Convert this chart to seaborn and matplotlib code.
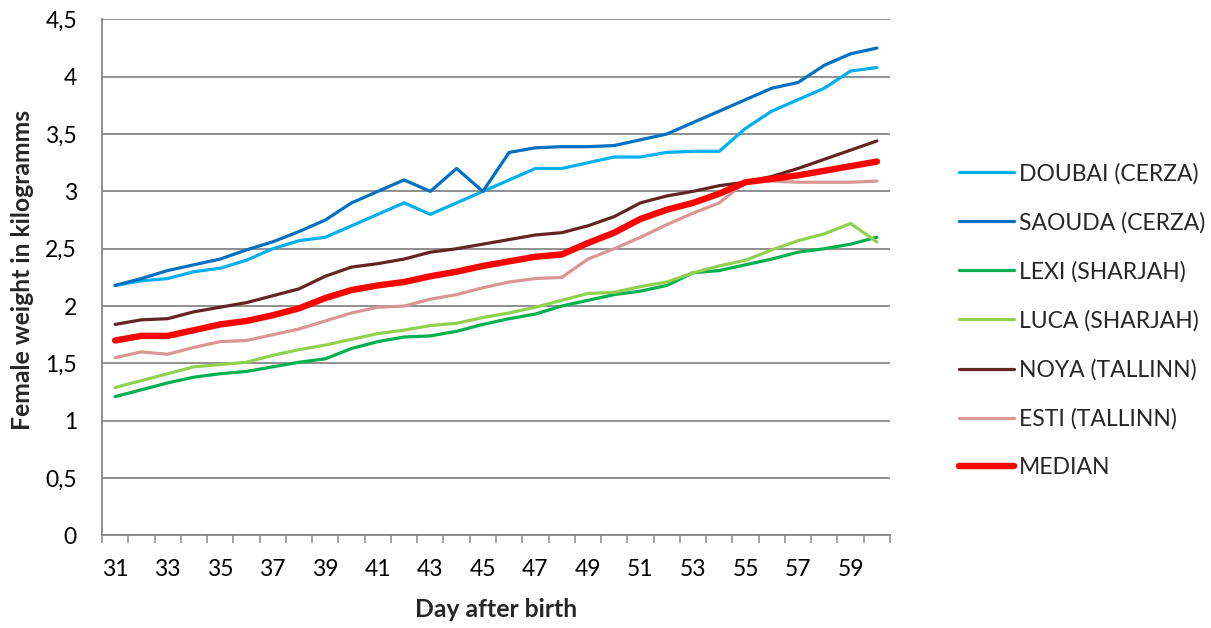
import matplotlib
matplotlib.use("Agg")
import matplotlib.pyplot as plt
import seaborn as sns
import numpy as np
import pandas as pd

# Days after birth (x categories)
days = list(range(31, 61))

doubai = [2.18, 2.22, 2.24, 2.30, 2.33, 2.40, 2.50, 2.57, 2.60, 2.70,
          2.80, 2.90, 2.80, 2.90, 3.00, 3.10, 3.20, 3.20, 3.25, 3.30,
          3.30, 3.34, 3.35, 3.35, 3.55, 3.70, 3.80, 3.90, 4.05, 4.08]
saouda = [2.18, 2.24, 2.31, 2.36, 2.41, 2.49, 2.56, 2.65, 2.75, 2.90,
          3.00, 3.10, 3.00, 3.20, 3.00, 3.34, 3.38, 3.39, 3.39, 3.40,
          3.45, 3.50, 3.60, 3.70, 3.80, 3.90, 3.95, 4.10, 4.20, 4.25]
lexi = [1.21, 1.27, 1.33, 1.38, 1.41, 1.43, 1.47, 1.51, 1.54, 1.63,
        1.69, 1.73, 1.74, 1.78, 1.84, 1.89, 1.93, 2.00, 2.05, 2.10,
        2.13, 2.18, 2.29, 2.31, 2.36, 2.41, 2.47, 2.50, 2.54, 2.60]
luca = [1.29, 1.35, 1.41, 1.47, 1.49, 1.51, 1.57, 1.62, 1.66, 1.71,
        1.76, 1.79, 1.83, 1.85, 1.90, 1.94, 1.99, 2.05, 2.11, 2.12,
        2.17, 2.21, 2.29, 2.35, 2.40, 2.49, 2.57, 2.63, 2.72, 2.56]
noya = [1.84, 1.88, 1.89, 1.95, 1.99, 2.03, 2.09, 2.15, 2.26, 2.34,
        2.37, 2.41, 2.47, 2.50, 2.54, 2.58, 2.62, 2.64, 2.70, 2.78,
        2.90, 2.96, 3.00, 3.05, 3.08, 3.13, 3.20, 3.28, 3.36, 3.44]
esti = [1.55, 1.60, 1.58, 1.64, 1.69, 1.70, 1.75, 1.80, 1.87, 1.94,
        1.99, 2.00, 2.06, 2.10, 2.16, 2.21, 2.24, 2.25, 2.41, 2.50,
        2.60, 2.71, 2.81, 2.90, 3.08, 3.09, 3.08, 3.08, 3.08, 3.09]
median = [1.70, 1.74, 1.74, 1.79, 1.84, 1.87, 1.92, 1.98, 2.07, 2.14,
          2.18, 2.21, 2.26, 2.30, 2.35, 2.39, 2.43, 2.45, 2.55, 2.64,
          2.76, 2.84, 2.90, 2.98, 3.08, 3.11, 3.14, 3.18, 3.22, 3.26]

series_names = ["DOUBAI (CERZA)", "SAOUDA (CERZA)", "LEXI (SHARJAH)",
                "LUCA (SHARJAH)", "NOYA (TALLINN)", "ESTI (TALLINN)", "MEDIAN"]
series_values = [doubai, saouda, lexi, luca, noya, esti, median]
series_colors = ["#00B0F0", "#0070C0", "#00B050", "#92D050",
                 "#632523", "#D99694", "#FF0000"]

y_ticks = [0, 0.5, 1, 1.5, 2, 2.5, 3, 3.5, 4, 4.5]
y_tick_labels = ["0", "0,5", "1", "1,5", "2", "2,5", "3", "3,5", "4", "4,5"]
x_tick_days = list(range(31, 61, 2))

sns.set_theme(style="white")
plt.rcParams["font.family"] = ["Lato", "DejaVu Sans"]

W, H = 1211, 628
fig = plt.figure(figsize=(W / 100, H / 100), dpi=100)
ax = fig.add_axes([102 / W, 1 - 535.4 / H, (890 - 102) / W, (535.4 - 19.4) / H])

for name, vals, col in zip(series_names, series_values, series_colors):
    lw = 4.6 if name == "MEDIAN" else 2.3
    sns.lineplot(x=days, y=vals, ax=ax, color=col, lw=lw, label=name,
                 solid_joinstyle="round", solid_capstyle="round")

ax.set_xlim(30.5, 60.5)
ax.set_ylim(0, 4.5)

ax.set_yticks(y_ticks)
ax.set_yticklabels(y_tick_labels)
ax.set_xticks(x_tick_days)
ax.set_xticklabels([str(d) for d in x_tick_days])
ax.set_xticks(np.arange(30.5, 61, 1), minor=True)

grid_col = "#878787"
ax.yaxis.grid(True, color=grid_col, lw=1.3)
ax.xaxis.grid(False)
ax.set_axisbelow(True)
for side in ["top", "right"]:
    ax.spines[side].set_visible(False)
for side in ["left", "bottom"]:
    ax.spines[side].set_color(grid_col)
    ax.spines[side].set_linewidth(1.3)

tick_fs = 16.5
ax.tick_params(axis="y", which="both", length=0, pad=18, labelsize=tick_fs, labelcolor="#000000")
ax.tick_params(axis="x", which="major", length=0, pad=17, labelsize=tick_fs, labelcolor="#000000")
ax.tick_params(axis="x", which="minor", bottom=True, length=6, width=1.1, color=grid_col)

ax.set_xlabel("Day after birth", fontsize=17.8, fontweight="bold", labelpad=13)
ax.set_ylabel("Female weight in kilogramms", fontsize=17.8, fontweight="bold",
              ha="center", va="center")
ax.yaxis.set_label_coords(-0.1015, 0.514)

handles, labels = ax.get_legend_handles_labels()
ax.get_legend().remove()
fig.legend(handles, labels, loc="center left",
           bbox_to_anchor=(959 / W, 1 - 320.5 / H), frameon=False,
           fontsize=16.5, handlelength=2.4, handletextpad=0.22,
           labelspacing=1.2, borderpad=0, borderaxespad=0)

fig.savefig("out.png", dpi=100)
